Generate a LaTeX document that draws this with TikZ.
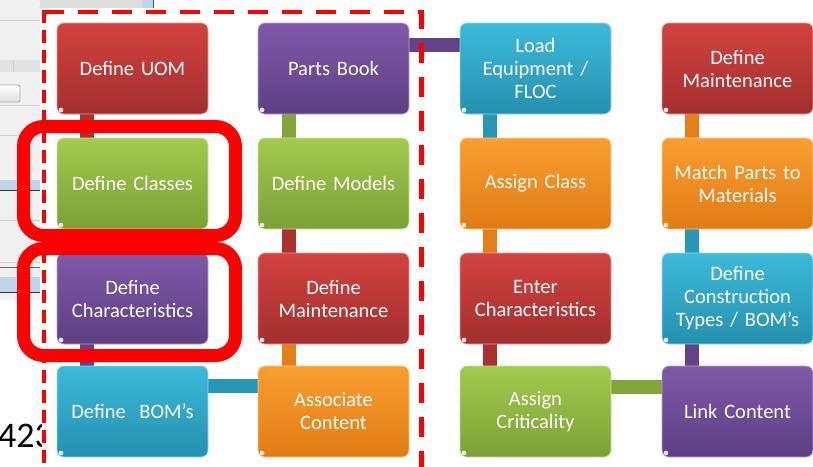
\documentclass[tikz,border=0pt]{standalone}
\usepackage{fontspec}
\setmainfont{Carlito}
\pgfdeclarelayer{bg}
\pgfdeclarelayer{conn}
\pgfsetlayers{bg,conn,main}
\definecolor{rdT}{HTML}{D3423F}
\definecolor{rdB}{HTML}{A22F2E}
\definecolor{puT}{HTML}{8059A8}
\definecolor{puB}{HTML}{5D3F85}
\definecolor{grT}{HTML}{A2CA4E}
\definecolor{grB}{HTML}{7BA035}
\definecolor{cyT}{HTML}{3CBADA}
\definecolor{cyB}{HTML}{2590AF}
\definecolor{orT}{HTML}{FA9E30}
\definecolor{orB}{HTML}{E07B14}
\definecolor{hl}{HTML}{FF0000}
\definecolor{uigray}{HTML}{F0F0F0}
\definecolor{uiline}{HTML}{D0D0D0}
\definecolor{uiblue}{HTML}{BFD5EC}
\newcommand{\boxfont}{\fontsize{20.5}{23}\selectfont\spaceskip=0.17em\relax}
\tikzset{
  box/.style={rectangle, rounded corners=7pt, minimum width=151pt, minimum height=91pt,
    inner sep=0pt, text width=148pt, align=center, text=white,
    font=\boxfont,
    top color=#1T, bottom color=#1B, draw=#1T!55!white, line width=0.7pt,
    path picture={\fill[white,opacity=.85] ([shift={(4pt,4pt)}]path picture bounding box.south west) circle (2.4pt);}},
  conn/.style={line width=14pt, draw=#1B!85!#1T},
  hlframe/.style={draw=hl, line width=13pt, rounded corners=20pt},
  guide/.style={draw=hl, line width=4.5pt}
}
\begin{document}
\begin{tikzpicture}[x=1pt,y=-1pt]
\useasboundingbox (0,0) rectangle (813,466);
\begin{pgfonlayer}{bg}
  \fill[white] (0,0) rectangle (813,466);
  % screenshot remnants on the left
  \fill[uigray] (0,0) rectangle (40,300);
  \fill[uigray!92!black] (40,0) rectangle (142,8);
  \fill[uiblue] (142,0) rectangle (153,8);
  \draw[gray!60!black, line width=1pt] (153,0) -- (153,8);
  \draw[uiline, line width=0.8pt] (0,20) -- (40,20);
  \fill[uigray!94!black] (0,60) rectangle (40,72);
  \draw[uiline, line width=0.6pt] (13,60) -- (13,72);
  \draw[gray!70, line width=0.8pt, top color=white, bottom color=gray!25, rounded corners=2pt] (-5,85) rectangle (20,102);
  \draw[uiline, line width=0.8pt] (0,105) -- (40,105);
  \draw[uiline, line width=0.8pt] (0,135) -- (40,135);
  \fill[uiblue] (0,180) rectangle (40,190);
  \draw[black!80, line width=1.2pt] (0,190.5) -- (40,190.5);
  \draw[uiline, line width=0.8pt] (0,220) -- (40,220);
  \draw[uiline, line width=0.8pt] (0,262) -- (40,262);
  \draw[black!60, line width=1pt] (0,267) -- (40,267);
  \fill[uiblue] (0,277) rectangle (40,292);
  \draw[black!80, line width=1.2pt] (0,292.5) -- (40,292.5);
  \begin{scope}
    \clip (0,300) rectangle (41,466);
    \node[anchor=base west, inner sep=0pt, font=\fontsize{36}{36}\selectfont] (num) at (-2,447) {423};
  \end{scope}
\end{pgfonlayer}

% column 1
\node[box=rd] (uom) at (132.5,68.5) {Define UOM};
\node[box=gr] (cls) at (132.5,183.5) {Define Classes};
\node[box=pu] (chr) at (132.5,298.5) {Define\\Characteristics};
\node[box=cy] (bom) at (132.5,411.5) {Define~ BOM’s};
% column 2
\node[box=pu] (pb) at (333.5,68.5) {Parts Book};
\node[box=gr] (dm) at (333.5,183.5) {Define Models};
\node[box=rd] (dmt) at (333.5,298.5) {Define\\Maintenance};
\node[box=or] (ac) at (333.5,411.5) {Associate\\Content};
% column 3
\node[box=cy] (le) at (535.5,68.5) {Load\\Equipment /\\FLOC};
\node[box=or] (acl) at (535.5,183.5) {Assign Class};
\node[box=rd] (ec) at (535.5,298.5) {Enter\\Characteristics};
\node[box=gr] (acr) at (535.5,411.5) {Assign\\Criticality};
% column 4
\node[box=rd] (dmt2) at (737.5,68.5) {Define\\Maintenance};
\node[box=or] (mp) at (737.5,183.5) {Match Parts to\\Materials};
\node[box=cy] (dct) at (737.5,298.5) {Define\\Construction\\Types / BOM’s};
\node[box=pu] (lc) at (737.5,411.5) {Link Content};

\begin{pgfonlayer}{conn}
  \draw[conn=rd] ([xshift=30pt]uom.south west) -- ([xshift=30pt]cls.north west);
  \draw[conn=gr] ([xshift=30pt]cls.south west) -- ([xshift=30pt]chr.north west);
  \draw[conn=pu] ([xshift=30pt]chr.south west) -- ([xshift=30pt]bom.north west);
  \draw[conn=cy] ([yshift=-20pt]bom.north east) -- ([yshift=-20pt]ac.north west);
  \draw[conn=or] ([xshift=31pt]ac.north west) -- ([xshift=31pt]dmt.south west);
  \draw[conn=rd] ([xshift=31pt]dmt.north west) -- ([xshift=31pt]dm.south west);
  \draw[conn=gr] ([xshift=31pt]dm.north west) -- ([xshift=31pt]pb.south west);
  \draw[conn=pu] ([yshift=-22pt]pb.north east) -- ([yshift=-22pt]le.north west);
  \draw[conn=cy] ([xshift=30pt]le.south west) -- ([xshift=30pt]acl.north west);
  \draw[conn=or] ([xshift=30pt]acl.south west) -- ([xshift=30pt]ec.north west);
  \draw[conn=rd] ([xshift=30pt]ec.south west) -- ([xshift=30pt]acr.north west);
  \draw[conn=gr] ([yshift=-21pt]acr.north east) -- ([yshift=-21pt]lc.north west);
  \draw[conn=pu] ([xshift=30pt]lc.north west) -- ([xshift=30pt]dct.south west);
  \draw[conn=cy] ([xshift=30pt]dct.north west) -- ([xshift=30pt]mp.south west);
  \draw[conn=or] ([xshift=30pt]mp.north west) -- ([xshift=30pt]dmt2.south west);
\end{pgfonlayer}

% dashed guide region
\draw[guide, dash pattern=on 20pt off 14pt] (44,12) -- (421.5,12) -- (421.5,480);
\draw[guide, line width=4pt, dash pattern=on 13pt off 7pt] (44,10) -- (44,480);
% highlight frames
\draw[hlframe] (23.5,126.5) rectangle (235.5,235.5);
\draw[hlframe] (23.5,248.5) rectangle (235.5,355.5);
\end{tikzpicture}
\end{document}
